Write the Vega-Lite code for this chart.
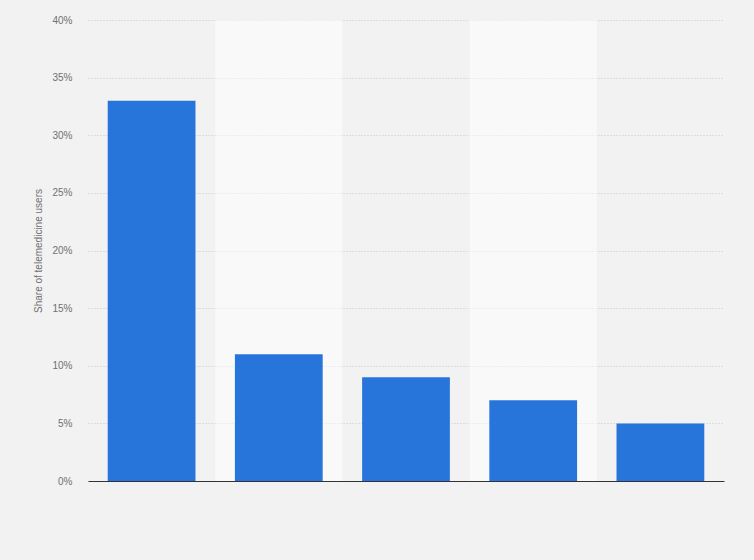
{
  "$schema": "https://vega.github.io/schema/vega-lite/v6.json",
  "width": 636,
  "height": 461,
  "autosize": {"type": "none"},
  "padding": {"left": 88, "top": 20, "right": 30, "bottom": 79},
  "background": "#f2f2f2",
  "config": {
    "view": {"stroke": null},
    "font": "Liberation Sans",
    "axis": {"labelColor": "#707070", "labelFontSize": 10, "titleColor": "#707070", "titleFontSize": 10, "titleFontWeight": "normal"}
  },
  "data": {
    "values": [
      {"category": "1", "share": 33},
      {"category": "2", "share": 11},
      {"category": "3", "share": 9},
      {"category": "4", "share": 7},
      {"category": "5", "share": 5}
    ]
  },
  "encoding": {
    "x": {
      "field": "category",
      "type": "nominal",
      "scale": {"domain": ["1", "2", "3", "4", "5"], "paddingInner": 0, "paddingOuter": 0},
      "axis": {"title": null, "labels": false, "ticks": false, "domain": true, "domainColor": "#333333", "domainWidth": 1, "grid": false}
    }
  },
  "layer": [
    {
      "transform": [{"filter": {"field": "category", "oneOf": ["2", "4"]}}],
      "mark": {"type": "bar", "color": "#ffffff", "opacity": 0.5, "width": {"band": 1}},
      "encoding": {
        "y": {"datum": 0, "type": "quantitative"},
        "y2": {"datum": 40}
      }
    },
    {
      "mark": {"type": "bar", "color": "#2775db", "width": {"band": 0.69}},
      "encoding": {
        "y": {
          "field": "share",
          "type": "quantitative",
          "scale": {"domain": [0, 40], "nice": false},
          "axis": {
            "title": "Share of telemedicine users",
            "values": [0, 5, 10, 15, 20, 25, 30, 35, 40],
            "labelExpr": "datum.value + '%'",
            "domain": false,
            "ticks": false,
            "labelPadding": 16,
            "titlePadding": 8,
            "grid": true,
            "gridColor": "#c8c8c8",
            "gridDash": [1, 2]
          }
        }
      }
    }
  ]
}
